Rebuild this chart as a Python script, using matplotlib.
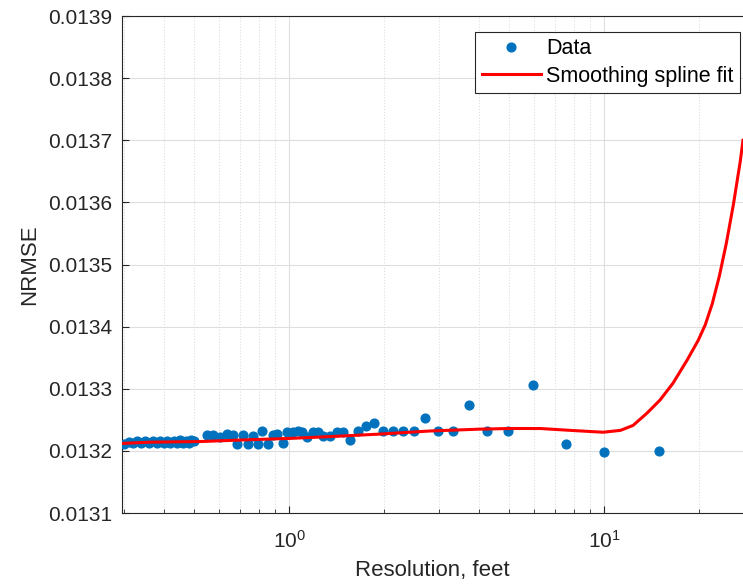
import numpy as np
import matplotlib
matplotlib.use("Agg")
import matplotlib.pyplot as plt
from matplotlib.ticker import LogLocator, NullFormatter

plt.rcParams['font.family'] = ['Liberation Sans', 'DejaVu Sans']
plt.rcParams['mathtext.fontset'] = 'custom'
plt.rcParams['mathtext.rm'] = 'Liberation Sans'

# measured points
res = [0.30, 0.31, 0.32, 0.33, 0.34, 0.35, 0.36, 0.37, 0.38, 0.39, 0.40,
       0.41, 0.42, 0.43, 0.44, 0.45, 0.46, 0.47, 0.48, 0.49, 0.50,
       0.549, 0.574, 0.604, 0.635, 0.664, 0.684, 0.714, 0.741, 0.768, 0.797,
       0.821, 0.858, 0.890, 0.916, 0.957, 0.985, 1.03, 1.07, 1.10, 1.14,
       1.19, 1.24, 1.28, 1.35, 1.42, 1.48, 1.56, 1.66, 1.75, 1.86,
       1.99, 2.14, 2.30, 2.49, 2.70, 2.97, 3.32, 3.73, 4.25, 4.96,
       5.95, 7.57, 10.0, 14.9]
nrmse = [0.013211, 0.013214, 0.013212, 0.013216, 0.013212, 0.013216, 0.013213, 0.013216, 0.013212, 0.013216, 0.013213,
         0.013216, 0.013212, 0.013216, 0.013213, 0.013217, 0.013212, 0.013216, 0.013213, 0.013217, 0.013216,
         0.013225, 0.013225, 0.013223, 0.013227, 0.013225, 0.013211, 0.013225, 0.013211, 0.013224, 0.013211,
         0.013232, 0.013211, 0.013225, 0.013227, 0.013212, 0.013230, 0.013230, 0.013232, 0.013230, 0.013222,
         0.013230, 0.013230, 0.013224, 0.013224, 0.013230, 0.013230, 0.013217, 0.013232, 0.013240, 0.013245,
         0.013232, 0.013232, 0.013232, 0.013232, 0.013253, 0.013232, 0.013232, 0.013274, 0.013232, 0.013232,
         0.013306, 0.013211, 0.013198, 0.013199]

# smoothing spline fit
fit_x = [0.295, 0.362, 0.522, 0.752, 1.0, 1.35, 1.94, 2.80, 4.04, 5.03, 6.27,
         7.82, 9.93, 11.27, 12.36, 13.70, 15.06, 16.55, 18.34, 19.90,
         20.95, 22.05, 23.21, 24.43, 25.72, 27.07, 27.6]
fit_y = [0.013212, 0.013214, 0.013215, 0.013218, 0.013220, 0.013223, 0.013227, 0.013232, 0.013235, 0.013236, 0.013236,
         0.013233, 0.013230, 0.013233, 0.013241, 0.013261, 0.013282, 0.013309, 0.013346, 0.013378,
         0.013403, 0.013437, 0.013481, 0.013534, 0.013596, 0.013667, 0.013700]

fig = plt.figure(figsize=(7.43, 5.87), dpi=100)
ax = fig.add_axes([122/743, 1 - 513/587, 1 - 122/743, (513 - 16)/587])

ax.plot(res, nrmse, 'o', color='#0072BD', markersize=6.3, label='Data', zorder=3)
ax.plot(fit_x, fit_y, '-', color='#FF0000', linewidth=2.2, label='Smoothing spline fit', zorder=4)

ax.set_xscale('log')
ax.set_xlim(0.295, 27.6)
ax.set_ylim(0.0131, 0.0139)
ax.set_yticks(np.arange(0.0131, 0.01391, 0.0001))
ax.set_yticklabels(['%.4f' % v for v in np.arange(0.0131, 0.01391, 0.0001)])
ax.xaxis.set_major_locator(LogLocator(base=10))
ax.xaxis.set_minor_locator(LogLocator(base=10, subs=np.arange(2, 10)))
ax.xaxis.set_minor_formatter(NullFormatter())

ax.grid(True, which='major', color='#dedede', linewidth=0.8)
ax.grid(True, which='minor', axis='x', color='#dedede', linewidth=0.8, linestyle=':')
ax.set_axisbelow(True)

ax.tick_params(which='both', direction='in', colors='#262626', labelsize=15, top=False, right=False)
ax.tick_params(which='major', length=5)
ax.tick_params(axis='y', which='major', pad=7)
ax.tick_params(axis='x', which='major', pad=12.5)
ax.tick_params(which='minor', length=3)
for s in ['left', 'bottom', 'top']:
    ax.spines[s].set_color('#262626')
    ax.spines[s].set_linewidth(0.8)
ax.spines['right'].set_visible(False)

ax.set_xlabel('Resolution, feet', fontsize=16, color='#262626', labelpad=5.5)
ax.set_ylabel('NRMSE', fontsize=16, color='#262626', labelpad=6)

leg = ax.legend(loc='upper right', bbox_to_anchor=(1 - 3/621, 1 - 16/497), borderaxespad=0,
                fontsize=15.5, fancybox=False, framealpha=1, edgecolor='#262626',
                handlelength=2.75, borderpad=0.3, labelspacing=0.3, handletextpad=0.25)
leg.get_frame().set_linewidth(0.8)

fig.savefig('out.png', dpi=100)
